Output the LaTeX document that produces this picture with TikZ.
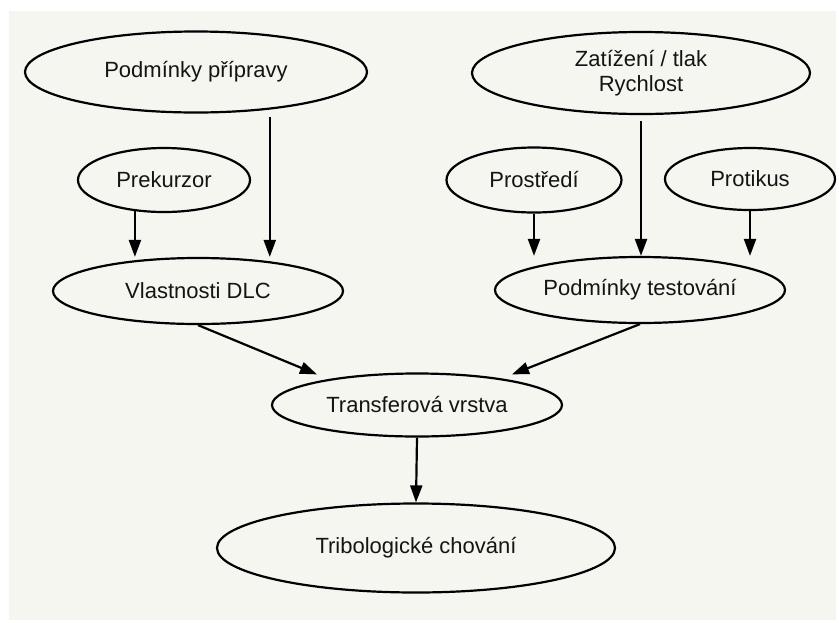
\documentclass[tikz,border=0pt]{standalone}
\usepackage{fontspec}
\setmainfont{Liberation Sans}
\usetikzlibrary{shapes.geometric,arrows.meta,calc}
\definecolor{panel}{RGB}{246,246,240}
\definecolor{ink}{RGB}{20,20,20}
\begin{document}
\begin{tikzpicture}[x=1pt,y=-1pt,
  oval/.style={ellipse,draw=black,line width=2.2pt,fill=panel,inner sep=0pt,
    text=ink,font=\fontsize{22}{25}\selectfont,align=center},
  arr/.style={line width=2.2pt,-{Triangle[length=17pt,width=12pt]}}]
\useasboundingbox (0,0) rectangle (839,622);
\fill[white] (0,0) rectangle (839,622);
\fill[panel] (9,11) rectangle (836,620);

\node[oval,minimum width=342pt,minimum height=81pt] (pp) at (196,72) {Podmínky přípravy};
\node[oval,minimum width=172pt,minimum height=64pt] (prek) at (164,180) {Prekurzor};
\node[oval,minimum width=290pt,minimum height=66pt] (vl) at (198,291) {Vlastnosti DLC};
\node[oval,minimum width=338pt,minimum height=82pt] (zr) at (641,73) {Zatížení / tlak\\Rychlost};
\node[oval,minimum width=175pt,minimum height=65pt] (pros) at (534,180) {Prostředí};
\node[oval,minimum width=170pt,minimum height=62pt] (prot) at (750,179) {Protikus};
\node[oval,minimum width=290pt,minimum height=66pt] (pt) at (640,290) {Podmínky testování};
\node[oval,minimum width=290pt,minimum height=63pt] (tv) at (417,405) {Transferová vrstva};
\node[oval,minimum width=398pt,minimum height=89pt] (tc) at (416,548) {Tribologické chování};

\draw[arr] (prek.227) -- (prek.227 |- vl.north);
\draw[arr,shorten <=7pt] (pp.333) -- (pp.333 |- vl.north);
\draw[arr] (pros.south) -- (pros.south |- pt.north);
\draw[arr,shorten <=6pt] (zr.south) -- (zr.south |- pt.north);
\draw[arr] (prot.south) -- (prot.south |- pt.north);
\draw[arr] (vl.south) -- ($(tv.north)+(-100,2)$);
\draw[arr] (pt.south) -- ($(tv.north)+(95,2)$);
\draw[arr] (tv.south) -- (tc.north);
\end{tikzpicture}
\end{document}
